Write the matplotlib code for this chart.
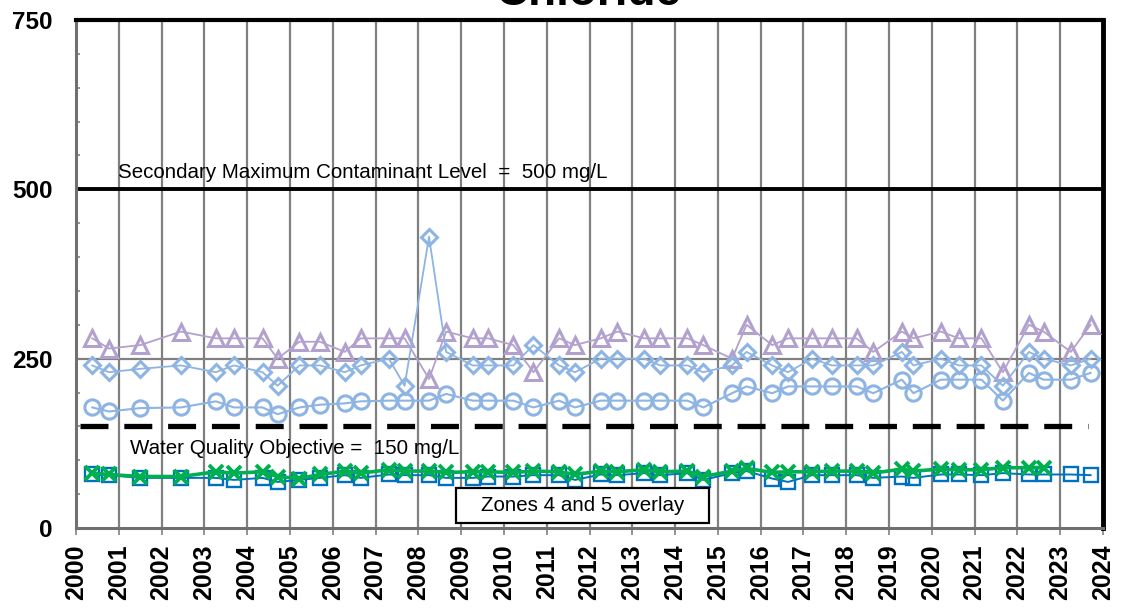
import matplotlib
matplotlib.use("Agg")
import matplotlib.pyplot as plt
from matplotlib.ticker import MultipleLocator
from matplotlib.patches import Rectangle

plt.rcParams['font.family'] = ['Liberation Sans', 'DejaVu Sans']

# sampling dates (decimal years)
dates = [2000.38, 2000.77, 2001.50, 2002.45, 2003.27, 2003.69, 2004.36, 2004.71,
         2005.22, 2005.70, 2006.28, 2006.65, 2007.31, 2007.68, 2008.25, 2008.65,
         2009.27, 2009.63, 2010.22, 2010.69, 2011.29, 2011.66, 2012.26, 2012.65,
         2013.28, 2013.65, 2014.29, 2014.66, 2015.33, 2015.67, 2016.27, 2016.64,
         2017.20, 2017.66, 2018.24, 2018.63, 2019.30, 2019.57, 2020.21, 2020.63,
         2021.16, 2021.66, 2022.27, 2022.61, 2023.25, 2023.71]

triangle_vals = [280, 265, 270, 290, 280, 280, 280, 250, 275, 275, 260, 280, 280, 280, 220, 290,
                 280, 280, 270, 230, 280, 270, 280, 290, 280, 280, 280, 270, 250, 300,
                 270, 280, 280, 280, 280, 260, 290, 280, 290, 280, 280, 230, 300, 290, 260, 300]

diamond_vals = [240, 230, 235, 240, 230, 240, 230, 210, 240, 240, 230, 240, 250, 210, 430, 260,
                240, 240, 240, 270, 240, 230, 250, 250, 250, 240, 240, 230, 240, 260,
                240, 230, 250, 240, 240, 240, 260, 240, 250, 240, 240, 210, 260, 250, 240, 250]

circle_vals = [178, 172, 177, 178, 187, 178, 178, 168, 178, 182, 184, 187, 188, 188, 188, 198,
               188, 188, 188, 178, 188, 178, 188, 188, 188, 188, 188, 178, 199, 209,
               199, 209, 209, 209, 209, 199, 219, 199, 219, 219, 219, 188, 229, 219, 219, 229]

square_vals = [79, 78, 74, 74, 74, 71, 74, 68, 71, 74,
               78, 74, 79, 78, 78, 74, 74, 76, 76, 78, 78, 71,
               79, 78, 81, 78, 81, 71, 81, 84, 73, 68, 78, 78,
               78, 74, 76, 74, 79, 79, 78, 81, 79, 79, 79, 78]

x_vals = [81, 79, 76, 76, 83, 81, 83, 76, 73, 79,
          84, 81, 86, 84, 84, 82, 83, 83, 82, 84, 83, 79,
          84, 83, 86, 83, 84, 76, 84, 88, 82, 83, 83, 84,
          84, 81, 87, 84, 87, 86, 86, 89, 89, 89]

smcl = 500
wqo = 150
wqo_span = [2000.1, 2023.66]
year_ticks = list(range(2000, 2025))
y_ticks = [0, 250, 500, 750]

fig = plt.figure(figsize=(11.23, 6.08), dpi=100)
ax = fig.add_axes([76/1123, 1-528/608, (1103-76)/1123, (528-20)/608])
ax.set_xlim(2000, 2024)
ax.set_ylim(0, 750)

# grid
for yr in year_ticks[1:-1]:
    ax.axvline(yr, color='#808080', lw=1.6, zorder=1)
ax.axhline(250, color='#808080', lw=1.6, zorder=1)
ax.axhline(smcl, color='black', lw=2.8, zorder=2)
ax.plot(wqo_span, [wqo, wqo], color='black', lw=3.8, dashes=(5.3, 3.0), zorder=2)

purple = '#B2A1CD'
lblue = '#8DB4E2'
dblue = '#0070C0'
green = '#00B050'

ax.plot(dates, triangle_vals, color=purple, lw=1.3, marker='^', ms=11, mfc='none',
        mec=purple, mew=2.2, zorder=4)
ax.plot(dates, diamond_vals, color=lblue, lw=1.3, marker='D', ms=8.5, mfc='none',
        mec=lblue, mew=2.2, zorder=4)
ax.plot(dates, circle_vals, color=lblue, lw=1.5, marker='o', ms=11, mfc='none',
        mec=lblue, mew=2.2, zorder=4)
ax.plot(dates, square_vals, color=dblue, lw=1.4, marker='s', ms=9.5, mfc='none',
        mec=dblue, mew=1.7, zorder=4)
ax.plot(dates[:len(x_vals)], x_vals, color=green, lw=2.6, marker='x', ms=10,
        mec=green, mew=2.8, zorder=5)

# texts
ax.text(2000.98, 500 + 17*250/169, 'Secondary Maximum Contaminant Level  =  500 mg/L',
        fontsize=14.8, va='center', ha='left', zorder=6)
ax.text(2001.26, 150 - 22*250/169, 'Water Quality Objective =  150 mg/L',
        fontsize=14.8, va='center', ha='left', zorder=6)
ax.add_patch(Rectangle((2008.88, 7.5), 5.91, 51.5, fc='white', ec='black', lw=1.6,
                       zorder=7))
ax.text(2011.83, 33, 'Zones 4 and 5 overlay', fontsize=14.8, va='center', ha='center',
        zorder=8)

# axes styling
ax.set_xticks(year_ticks)
ax.set_xticklabels([str(y) for y in year_ticks], rotation=90, fontsize=18, fontweight='bold')
ax.set_yticks(y_ticks)
ax.set_yticklabels([str(v) for v in y_ticks], fontsize=17.5, fontweight='bold')
ax.yaxis.set_minor_locator(MultipleLocator(50))
ax.tick_params(axis='y', which='major', length=0, pad=17)
ax.tick_params(axis='y', which='minor', direction='in', length=3, color='#808080', width=1.2)
ax.tick_params(axis='x', which='major', direction='out', length=5, color='#808080',
               width=1.2, pad=7)

ax.spines['top'].set_linewidth(3)
ax.spines['top'].set_color('black')
ax.spines['right'].set_linewidth(3.5)
ax.spines['right'].set_color('black')
ax.spines['left'].set_linewidth(2.2)
ax.spines['left'].set_color('#707070')
ax.spines['bottom'].set_linewidth(2.2)
ax.spines['bottom'].set_color('#707070')

fig.text(588/1123, 1 - 5/608, 'Chloride', fontsize=33, fontweight='bold',
         ha='center', va='baseline')

fig.savefig('out.png', dpi=100)
